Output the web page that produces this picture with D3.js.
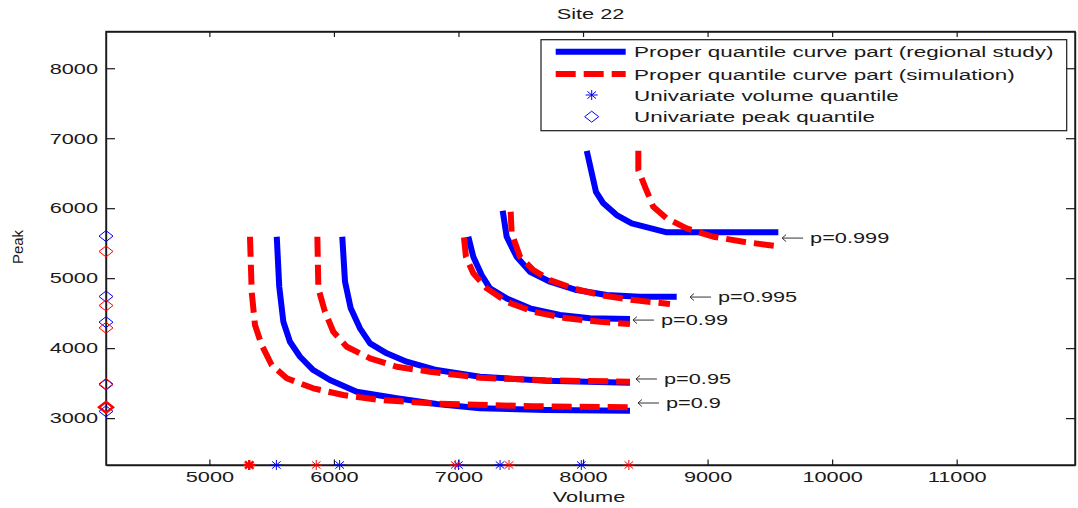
<html>
<head>
<script src="https://d3js.org/d3.v7.min.js"></script>
<style>
  body { margin: 0; background: #fff; }
  text { font-family: "Liberation Sans", Arial, sans-serif; fill: #1a1a1a; }
</style>
</head>
<body>
<div id="chart"></div>
<script>
// ---- data ----
const xTicks = [5000, 6000, 7000, 8000, 9000, 10000, 11000];
const yTicks = [3000, 4000, 5000, 6000, 7000, 8000];
const probLevels = ["0.9", "0.95", "0.99", "0.995", "0.999"];

// proper quantile curve parts, [volume, peak], one array per level
const regionalCurves = [
  [[5541,5592],[5561,4877],[5594,4377],[5647,4091],[5728,3877],[5834,3687],[5968,3544],[6183,3377],[6504,3283],[6825,3201],[7173,3140],[7700,3115],[8377,3106]],
  [[6067,5592],[6089,4949],[6135,4569],[6209,4283],[6290,4069],[6424,3926],[6584,3806],[6825,3687],[7173,3592],[7700,3535],[8377,3506]],
  [[7079,5592],[7119,5306],[7186,5044],[7253,4854],[7387,4711],[7574,4569],[7815,4473],[8056,4426],[8377,4416]],
  [[7355,5963],[7387,5592],[7467,5306],[7574,5091],[7735,4949],[7949,4830],[8190,4759],[8457,4734],[8752,4734]],
  [[8030,6820],[8104,6234],[8163,6069],[8270,5902],[8391,5783],[8672,5655],[9568,5655]]
];
const simulationCurves = [
  [[5326,5592],[5340,4801],[5366,4330],[5420,4044],[5500,3759],[5621,3569],[5834,3426],[6075,3330],[6370,3259],[6771,3211],[7146,3190],[7600,3170],[8377,3155]],
  [[5867,5592],[5875,4854],[5928,4520],[5995,4234],[6103,4020],[6290,3854],[6504,3734],[6771,3663],[7173,3577],[7700,3540],[8377,3520]],
  [[7044,5583],[7060,5306],[7119,5069],[7227,4854],[7387,4663],[7601,4520],[7869,4426],[8136,4377],[8377,4344]],
  [[7419,5949],[7427,5640],[7494,5306],[7601,5116],[7735,4973],[7922,4854],[8136,4759],[8404,4687],[8698,4630]],
  [[8444,6820],[8444,6544],[8498,6306],[8564,6020],[8672,5854],[8832,5711],[9046,5592],[9287,5520],[9555,5459]]
];

// univariate quantiles (same order as probLevels)
const regionalVolumeQ = [5538, 6046, 7000, 7334, 7986];
const simulationVolumeQ = [5320, 5858, 6974, 7406, 8368];
const regionalPeakQ = [3097, 3479, 4371, 4738, 5601];
const simulationPeakQ = [3155, 3489, 4290, 4609, 5382];

// where each "<- p=..." note points
const labelVolume = [8425, 8409, 8385, 8843, 9582];
const labelPeak = [3216, 3559, 4401, 4730, 5573];

const legendLabels = [
  "Proper quantile curve part (regional study)",
  "Proper quantile curve part (simulation)",
  "Univariate volume quantile",
  "Univariate peak quantile"
];

// ---- layout ----
const W = 1078, H = 508;
const plotL = 106, plotR = 1075, plotT = 31.5, plotB = 465;
const SX = 1.45; // text in the original is stretched sideways
const BLUE = "#0000ff", RED = "#ff0000", INK = "#1a1a1a";
const LW = 6;

const svg = d3.select("#chart").append("svg")
  .attr("width", W).attr("height", H);

const x = d3.scaleLinear().domain([4170, 11950]).range([plotL, plotR]);
const y = d3.scaleLinear().domain([2330, 8525]).range([plotB, plotT]);

function label(g, px, py, str, size, anchor) {
  return g.append("text")
    .attr("transform", `translate(${px},${py}) scale(${SX},1)`)
    .attr("text-anchor", anchor || "start")
    .attr("dy", "0.36em")
    .style("font-size", size + "px")
    .text(str);
}

// box
svg.append("rect")
  .attr("x", plotL).attr("y", plotT)
  .attr("width", plotR - plotL).attr("height", plotB - plotT)
  .attr("fill", "none").attr("stroke", INK).attr("stroke-width", 1.4);

// axes, ticks pointing inward
const xAxis = svg.append("g").attr("transform", `translate(0,${plotB})`)
  .call(d3.axisBottom(x).tickValues(xTicks).tickFormat(d3.format("d"))
    .tickSizeInner(-5.5).tickSizeOuter(0).tickPadding(6.5));
const xAxisTop = svg.append("g").attr("transform", `translate(0,${plotT})`)
  .call(d3.axisTop(x).tickValues(xTicks).tickFormat("")
    .tickSizeInner(-5.5).tickSizeOuter(0));
const yAxis = svg.append("g").attr("transform", `translate(${plotL},0)`)
  .call(d3.axisLeft(y).tickValues(yTicks).tickFormat(d3.format("d"))
    .tickSizeInner(-9).tickSizeOuter(0));
const yAxisRight = svg.append("g").attr("transform", `translate(${plotR},0)`)
  .call(d3.axisRight(y).tickValues(yTicks).tickFormat("")
    .tickSizeInner(-9).tickSizeOuter(0));

[xAxis, xAxisTop, yAxis, yAxisRight].forEach(g => {
  g.select(".domain").attr("stroke", INK).attr("stroke-width", 1.4);
  g.selectAll(".tick line").attr("stroke", INK).attr("stroke-width", 1.2);
});
xAxis.selectAll(".tick text")
  .attr("transform", `scale(${SX},1)`)
  .style("font-size", "15px").attr("fill", INK).attr("font-family", null);
yAxis.selectAll(".tick text")
  .attr("transform", `scale(${SX},1)`)
  .attr("x", -8 / SX)
  .style("font-size", "15px").attr("fill", INK).attr("font-family", null);

// titles
label(svg, (plotL + plotR) / 2, 14, "Site 22", 15, "middle");
label(svg, 589, 497, "Volume", 15, "middle");
svg.append("text")
  .attr("transform", "translate(18,247) rotate(-90)")
  .attr("text-anchor", "middle").attr("dy", "0.36em")
  .style("font-size", "15px")
  .text("Peak");

// curves
const line = d3.line().x(d => x(d[0])).y(d => y(d[1]));
const curves = svg.append("g").attr("fill", "none")
  .attr("stroke-linejoin", "round").attr("stroke-linecap", "butt");
regionalCurves.forEach((c, i) => {
  curves.append("path").datum(c).attr("d", line)
    .attr("stroke", BLUE).attr("stroke-width", LW);
  curves.append("path").datum(simulationCurves[i]).attr("d", line)
    .attr("stroke", RED).attr("stroke-width", LW)
    .attr("stroke-dasharray", "20,8");
});

// arrow notes
const notes = svg.append("g");
probLevels.forEach((p, i) => {
  const px = x(labelVolume[i]), py = y(labelPeak[i]);
  notes.append("path")
    .attr("d", `M${px + 2},${py}H${px + 23} M${px + 6},${py - 3.5}L${px + 2},${py}L${px + 6},${py + 3.5}`)
    .attr("fill", "none").attr("stroke", "#333").attr("stroke-width", 1);
  label(notes, px + 30, py, "p=" + p, 15, "start");
});

// univariate markers
const starPath = "M-6,0H6M0,-5V5M-4.3,-3.6L4.3,3.6M-4.3,3.6L4.3,-3.6";
const diamondPath = "M-7,0L0,-5.5L7,0L0,5.5Z";
const marks = svg.append("g").attr("fill", "none");
function drawMarks(vals, path, color, onX) {
  vals.forEach((v, i) => {
    const tx = onX ? x(v) : plotL;
    const ty = onX ? plotB : y(v);
    marks.append("path").attr("d", path)
      .attr("transform", `translate(${tx},${ty})`)
      .attr("stroke", color)
      .attr("stroke-width", color === RED && i === 0 ? 2.4 : 1);
  });
}
drawMarks(regionalVolumeQ, starPath, BLUE, true);
drawMarks(simulationVolumeQ, starPath, RED, true);
drawMarks(regionalPeakQ, diamondPath, BLUE, false);
drawMarks(simulationPeakQ, diamondPath, RED, false);

// legend
const lg = svg.append("g");
lg.append("rect").attr("x", 541).attr("y", 39.7).attr("width", 525.7).attr("height", 91)
  .attr("fill", "#fff").attr("stroke", INK).attr("stroke-width", 1.2);
const rowY = [51.7, 74, 95, 116.7];
lg.append("line").attr("x1", 555.7).attr("x2", 625.7).attr("y1", rowY[0]).attr("y2", rowY[0])
  .attr("stroke", BLUE).attr("stroke-width", LW);
lg.append("line").attr("x1", 555.7).attr("x2", 625.7).attr("y1", rowY[1]).attr("y2", rowY[1])
  .attr("stroke", RED).attr("stroke-width", LW).attr("stroke-dasharray", "20,8");
lg.append("path").attr("d", starPath).attr("transform", `translate(591.7,${rowY[2]})`)
  .attr("fill", "none").attr("stroke", BLUE);
lg.append("path").attr("d", diamondPath).attr("transform", `translate(591.7,${rowY[3]})`)
  .attr("fill", "none").attr("stroke", BLUE);
legendLabels.forEach((t, i) => label(lg, 634, rowY[i], t, 15.5, "start"));
</script>
</body>
</html>
